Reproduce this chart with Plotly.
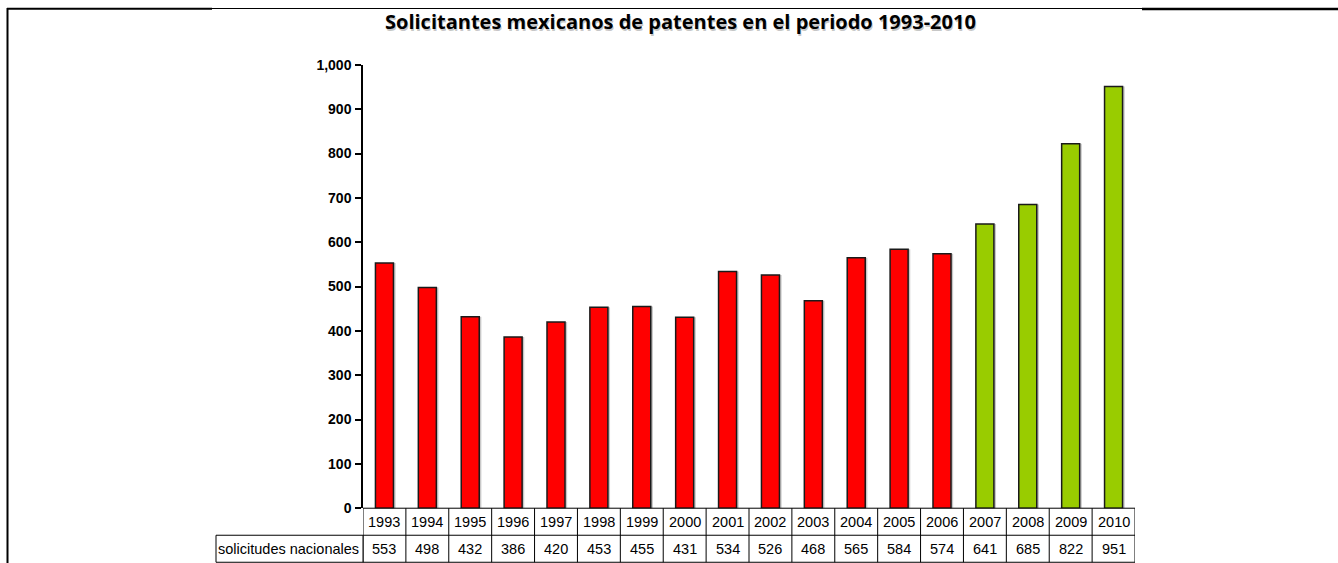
import plotly.graph_objects as go

years = ["1993", "1994", "1995", "1996", "1997", "1998", "1999", "2000", "2001",
         "2002", "2003", "2004", "2005", "2006", "2007", "2008", "2009", "2010"]
solicitudes = [553, 498, 432, 386, 420, 453, 455, 431, 534, 526, 468, 565, 584, 574,
               641, 685, 822, 951]
red_years = 14  # 1993-2006 red, 2007-2010 green
title = "Solicitantes mexicanos de patentes en el periodo 1993-2010"
row_label = "solicitudes nacionales"
y_ticks = [0, 100, 200, 300, 400, 500, 600, 700, 800, 900, 1000]

W, H = 1338, 580
# compensate for the vertical offset/compression observed in the capture
OFF, SC = 8.2, 0.9716
def px(x):
    return x / W
def py(y):
    yy = max(0.0, (y - OFF) / SC)
    return (H - yy) / H

colors = ["#FF0000" if i < red_years else "#99CC00" for i in range(len(years))]
bw = 0.42
xs = list(range(len(years)))

fig = go.Figure()
# soft shadow behind bars
fig.add_trace(go.Bar(
    x=xs, y=solicitudes, width=bw, offset=-bw / 2 + 0.05,
    marker=dict(color="#c8c8c8", line=dict(width=0)),
    showlegend=False, hoverinfo="skip",
))
fig.add_trace(go.Bar(
    x=xs, y=solicitudes, width=bw, offset=-bw / 2,
    marker=dict(color=colors, line=dict(color="#1a1a1a", width=1.5)),
    showlegend=False, hoverinfo="x+y",
))

x0, x1 = 363, 1135
y_top, y_zero = 65, 508
row1_bot, row2_bot = 535, 562
label_left = 216

fig.update_layout(
    width=W, height=H, barmode="overlay",
    margin=dict(l=0, r=0, t=0, b=0),
    paper_bgcolor="white", plot_bgcolor="white",
    xaxis=dict(domain=[px(x0), px(x1)], range=[-0.5, len(years) - 0.5],
               showticklabels=False, showgrid=False, zeroline=False,
               showline=False, ticks=""),
    yaxis=dict(domain=[py(y_zero), py(y_top)], range=[0, 1000],
               tickvals=y_ticks, tickformat=",", showgrid=False, zeroline=False,
               showline=True, linecolor="black", linewidth=1.5,
               ticks="outside", ticklen=6, tickcolor="black", tickwidth=1.5,
               ticklabelstandoff=1,
               tickfont=dict(family="Liberation Sans, Arial", size=14, color="black",
                             weight="bold")),
)

shapes = []
line = dict(color="black", width=1)
for yy in [y_zero, row1_bot, row2_bot]:
    shapes.append(dict(type="line", xref="x", yref="paper", x0=-0.5, x1=len(years) - 0.5,
                       y0=py(yy), y1=py(yy), line=line))
for i in range(len(years) + 1):
    shapes.append(dict(type="line", xref="x", yref="paper", x0=i - 0.5, x1=i - 0.5,
                       y0=py(y_zero), y1=py(row2_bot), line=line))
shapes.append(dict(type="rect", xref="paper", yref="paper", x0=px(label_left), x1=px(x0),
                   y0=py(row2_bot), y1=py(row1_bot), line=line))
# page border pieces
shapes.append(dict(type="line", xref="paper", yref="paper", x0=px(7.5), x1=px(7.5),
                   y0=py(7), y1=0, line=dict(color="black", width=2)))
shapes.append(dict(type="line", xref="paper", yref="paper", x0=px(7), x1=px(212),
                   y0=py(9), y1=py(9), line=dict(color="black", width=2)))
shapes.append(dict(type="line", xref="paper", yref="paper", x0=px(212), x1=px(1142),
                   y0=py(8.7), y1=py(8.7), line=dict(color="black", width=1)))
shapes.append(dict(type="line", xref="paper", yref="paper", x0=px(1142), x1=1,
                   y0=py(9.2), y1=py(9.2), line=dict(color="black", width=2.5)))
fig.update_layout(shapes=shapes)

ann = []
tfont = dict(family="Liberation Sans, Arial", size=14.5, color="black")
for i, (yr, v) in enumerate(zip(years, solicitudes)):
    ann.append(dict(x=i, y=py((y_zero + row1_bot) / 2 + 0.5), xref="x", yref="paper",
                    text=yr, showarrow=False, font=tfont, xanchor="center", yanchor="middle"))
    ann.append(dict(x=i, y=py((row1_bot + row2_bot) / 2 + 0.5), xref="x", yref="paper",
                    text=str(v), showarrow=False, font=tfont, xanchor="center", yanchor="middle"))
ann.append(dict(x=px(label_left), y=py((row1_bot + row2_bot) / 2 + 0.5), xref="paper", yref="paper",
                text=row_label, showarrow=False, font=tfont, xanchor="left", yanchor="middle"))
# title with soft shadow
ann.append(dict(x=px(681.5), y=py(23.5), xref="paper", yref="paper", text="<b>" + title + "</b>",
                showarrow=False, xanchor="center", yanchor="middle",
                font=dict(family="Open Sans", size=20, color="rgba(0,0,0,0.22)")))
ann.append(dict(x=px(680.5), y=py(22), xref="paper", yref="paper", text="<b>" + title + "</b>",
                showarrow=False, xanchor="center", yanchor="middle",
                font=dict(family="Open Sans", size=20, color="black")))
fig.update_layout(annotations=ann)

post = ("var s=document.createElement('style');"
        "s.textContent='html,body{margin:0!important;padding:0!important;overflow:hidden;}';"
        "document.head.appendChild(s);")
fig.write_html("out.html", post_script=post, config={"displayModeBar": False})
